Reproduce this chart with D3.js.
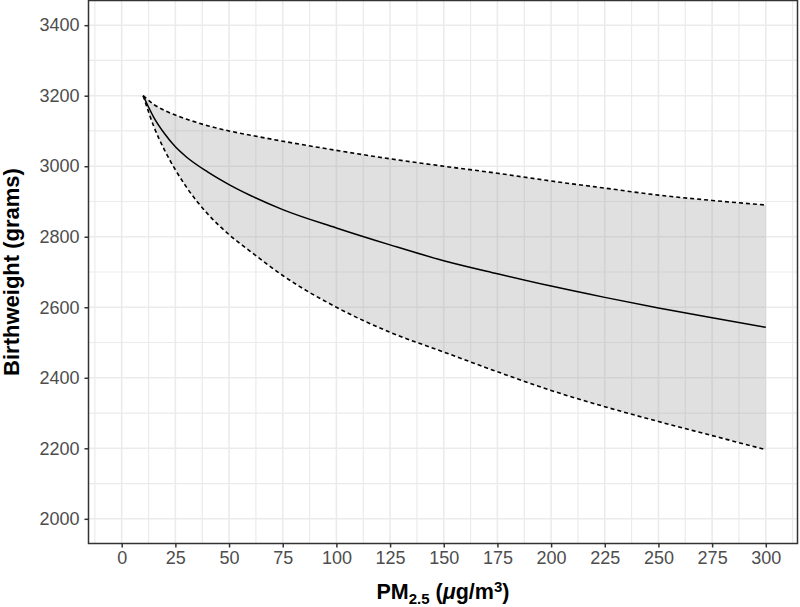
<!DOCTYPE html>
<html>
<head>
<meta charset="utf-8">
<script src="https://cdn.jsdelivr.net/npm/d3@7"></script>
<style>
  body { margin: 0; background: white; }
  svg { display: block; }
</style>
</head>
<body>
<div id="chart"></div>
<script>
// PM2.5 values along the curve and the birthweight
var pmValues    = [10,   15,   20,   25,   30,   40,   50,   60,   75,   100,  125,  150,  175,  200,  225,  250,  275,  300];
var meanWeight  = [3200, 3138, 3092, 3055, 3027, 2984, 2948, 2917, 2877, 2825, 2777, 2732, 2695, 2660, 2628, 2598, 2570, 2543];
var upperWeight = [3200, 3175, 3158, 3145, 3134, 3115, 3100, 3088, 3071, 3045, 3021, 3000, 2980, 2958, 2938, 2918, 2903, 2890];
var lowerWeight = [3200, 3112, 3045, 2990, 2942, 2865, 2806, 2758, 2690, 2600, 2529, 2473, 2417, 2364, 2318, 2276, 2236, 2196];

var xTicks = [0, 25, 50, 75, 100, 125, 150, 175, 200, 225, 250, 275, 300];
var yTicks = [2000, 2200, 2400, 2600, 2800, 3000, 3200, 3400];
var xMinor = [-12.5, 12.5, 37.5, 62.5, 87.5, 112.5, 137.5, 162.5, 187.5, 212.5, 237.5, 262.5, 287.5, 312.5];
var yMinor = [1900, 2100, 2300, 2500, 2700, 2900, 3100, 3300, 3500];

var w = 800;
var h = 607;
// panel edges (note: "top" is taken by window.top, so prefixed names)
var pLeft = 88.5, pRight = 797.5, pTop = 0.5, pBottom = 543.5;

var svg = d3.select("#chart")
    .append("svg")
    .attr("width", w)
    .attr("height", h);

var x = d3.scaleLinear().domain([-15, 315]).range([89.5, 798]);
var y = d3.scaleLinear().domain([1930, 3470]).range([pBottom, pTop]);

var plot = svg.append("g");

// clip so minor gridlines stay inside the panel
svg.append("clipPath")
    .attr("id", "panelClip")
    .append("rect")
    .attr("x", pLeft).attr("y", pTop)
    .attr("width", pRight - pLeft).attr("height", pBottom - pTop);

var grid = plot.append("g").attr("clip-path", "url(#panelClip)");

function vLines(data, width) {
    grid.selectAll(null)
        .data(data)
        .enter()
        .append("line")
        .attr("x1", function(d) { return x(d); })
        .attr("x2", function(d) { return x(d); })
        .attr("y1", pTop).attr("y2", pBottom)
        .attr("stroke", "#ebebeb")
        .attr("stroke-width", width);
}

function hLines(data, width) {
    grid.selectAll(null)
        .data(data)
        .enter()
        .append("line")
        .attr("y1", function(d) { return y(d); })
        .attr("y2", function(d) { return y(d); })
        .attr("x1", pLeft).attr("x2", pRight)
        .attr("stroke", "#ebebeb")
        .attr("stroke-width", width);
}

vLines(xMinor, 1.2);
hLines(yMinor, 1.2);
vLines(xTicks, 1.6);
hLines(yTicks, 1.6);

var rows = pmValues.map(function(d, i) {
    return { pm: d, mean: meanWeight[i], lo: lowerWeight[i], hi: upperWeight[i] };
});

// confidence band
var band = d3.area()
    .x(function(d) { return x(d.pm); })
    .y0(function(d) { return y(d.lo); })
    .y1(function(d) { return y(d.hi); })
    .curve(d3.curveMonotoneX);

plot.append("path")
    .datum(rows)
    .attr("d", band)
    .attr("fill", "#999999")
    .attr("fill-opacity", 0.3);

function curveLine(key) {
    return d3.line()
        .x(function(d) { return x(d.pm); })
        .y(function(d) { return y(d[key]); })
        .curve(d3.curveMonotoneX);
}

plot.append("path")
    .datum(rows)
    .attr("d", curveLine("hi"))
    .attr("fill", "none")
    .attr("stroke", "black")
    .attr("stroke-width", 1.6)
    .attr("stroke-dasharray", "4,3");

plot.append("path")
    .datum(rows)
    .attr("d", curveLine("lo"))
    .attr("fill", "none")
    .attr("stroke", "black")
    .attr("stroke-width", 1.6)
    .attr("stroke-dasharray", "4,3");

plot.append("path")
    .datum(rows)
    .attr("d", curveLine("mean"))
    .attr("fill", "none")
    .attr("stroke", "black")
    .attr("stroke-width", 1.5);

// panel border
plot.append("rect")
    .attr("x", pLeft).attr("y", pTop)
    .attr("width", pRight - pLeft).attr("height", pBottom - pTop)
    .attr("fill", "none")
    .attr("stroke", "#333333")
    .attr("stroke-width", 1.5);

// axes
var xAxis = d3.axisBottom(x).tickValues(xTicks).tickSize(4).tickPadding(4);
var yAxis = d3.axisLeft(y).tickValues(yTicks).tickFormat(d3.format("d")).tickSize(4).tickPadding(5);

var gx = svg.append("g")
    .attr("transform", "translate(0," + pBottom + ")")
    .call(xAxis);
var gy = svg.append("g")
    .attr("transform", "translate(" + pLeft + ",0)")
    .call(yAxis);

[gx, gy].forEach(function(g) {
    g.select(".domain").remove();
    g.selectAll(".tick line").attr("stroke", "#333333").attr("stroke-width", 1.5);
    g.selectAll(".tick text")
        .attr("font-family", "Liberation Sans, Arial, sans-serif")
        .attr("font-size", "18px")
        .attr("fill", "#4d4d4d");
});

// axis titles
var xTitle = svg.append("text")
    .attr("x", (pLeft + pRight) / 2)
    .attr("y", 599)
    .attr("text-anchor", "middle")
    .attr("font-family", "Liberation Sans, Arial, sans-serif")
    .attr("font-weight", "bold")
    .attr("font-size", "21.5px")
    .attr("fill", "black");
xTitle.append("tspan").text("PM");
xTitle.append("tspan").text("2.5").attr("font-size", "15px").attr("baseline-shift", "-30%");
xTitle.append("tspan").text(" (");
xTitle.append("tspan").text("μ").attr("font-style", "italic");
xTitle.append("tspan").text("g/m");
xTitle.append("tspan").text("3").attr("font-size", "15px").attr("baseline-shift", "45%");
xTitle.append("tspan").text(")");

svg.append("text")
    .attr("transform", "translate(19," + ((pTop + pBottom) / 2) + ") rotate(-90)")
    .attr("text-anchor", "middle")
    .attr("font-family", "Liberation Sans, Arial, sans-serif")
    .attr("font-weight", "bold")
    .attr("font-size", "22px")
    .attr("fill", "black")
    .text("Birthweight (grams)");
</script>
</body>
</html>
